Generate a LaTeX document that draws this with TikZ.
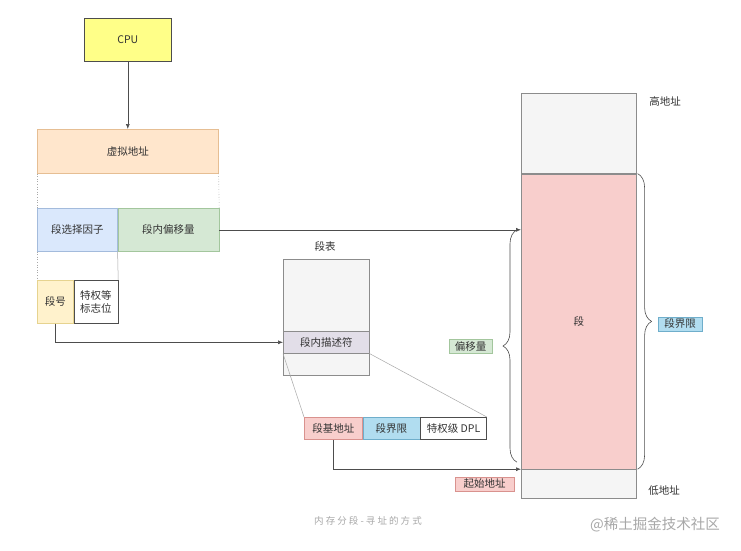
\documentclass[tikz,border=0pt]{standalone}
\usepackage{fontspec}
\setmainfont{Noto Sans CJK SC}
\newfontfamily\capfont[LetterSpace=22]{Noto Sans CJK SC}
\usetikzlibrary{arrows.meta,calc,positioning,decorations.pathreplacing}
\definecolor{Ink}{HTML}{333333}
\definecolor{Wire}{HTML}{4D4D4D}
\definecolor{Faint}{HTML}{A8A8A8}
\definecolor{CpuFill}{HTML}{FFFF88}
\definecolor{OrangeFill}{HTML}{FFE6CC}
\definecolor{OrangeLine}{HTML}{E6BE93}
\definecolor{BlueFill}{HTML}{DAE8FC}
\definecolor{BlueLine}{HTML}{A3BBDC}
\definecolor{GreenFill}{HTML}{D5E8D4}
\definecolor{GreenLine}{HTML}{A3C69D}
\definecolor{SandFill}{HTML}{FFF2CC}
\definecolor{SandLine}{HTML}{E6D38F}
\definecolor{GreyFill}{HTML}{F5F5F5}
\definecolor{GreyLine}{HTML}{8C8C8C}
\definecolor{LilacFill}{HTML}{E2DEE8}
\definecolor{PinkFill}{HTML}{F8CECC}
\definecolor{PinkLine}{HTML}{D9928E}
\definecolor{SkyFill}{HTML}{B1DDF0}
\definecolor{SkyLine}{HTML}{6FAECB}

\begin{document}
\begin{tikzpicture}[
  x=1pt,y=-1pt,
  font=\fontsize{10.5}{13}\selectfont,text=Ink,
  box/.style={draw,inner sep=1pt,align=center,anchor=north west,line width=0.6pt},
  cpubox/.style={box,fill=CpuFill,draw=Wire},
  orange/.style={box,fill=OrangeFill,draw=OrangeLine},
  blue/.style={box,fill=BlueFill,draw=BlueLine},
  green/.style={box,fill=GreenFill,draw=GreenLine},
  sand/.style={box,fill=SandFill,draw=SandLine},
  plain/.style={box,fill=white,draw=Wire},
  grey/.style={box,fill=GreyFill,draw=GreyLine},
  pink/.style={box,fill=PinkFill,draw=PinkLine},
  sky/.style={box,fill=SkyFill,draw=SkyLine},
  tag/.style={draw,inner sep=1pt,minimum height=14pt,line width=0.5pt},
  arr/.style={-{Latex[length=5pt,width=4pt]},draw=Wire,line width=0.6pt},
  dots/.style={draw=Faint,dotted,line width=0.6pt},
  thin/.style={draw=Faint,line width=0.5pt},
  brace/.style={decorate,decoration={brace,amplitude=14pt},draw=Wire,line width=0.6pt}
]
  \fill[white] (0,0) rectangle (741,551);
  \useasboundingbox (0,0) rectangle (741,551);

  \node[cpubox,minimum width=87pt,minimum height=43pt] (cpu) at (84,18) {CPU};
  \node[orange,minimum width=181pt,minimum height=44pt] (vaddr) at (37,129) {虚拟地址};
  \node[blue,minimum width=80pt,minimum height=43pt] (sel) at (37,208) {段选择因子};
  \node[green,minimum width=101pt,minimum height=43pt,right=0pt of sel] (offs) {段内偏移量};
  \node[sand,minimum width=36pt,minimum height=43pt] (segno) at (37,280) {段号};
  \node[plain,minimum width=44pt,minimum height=43pt,right=0pt of segno] (flags) {特权等\\标志位};

  \node (tabtitle) at (325,246) {段表};
  \node[grey,minimum width=86pt,minimum height=116pt] (segtab) at (283,259) {};
  \node[box,fill=LilacFill,draw=GreyLine,minimum width=86pt,minimum height=22pt] (desc) at (283,331) {段内描述符};
  \node[pink,minimum width=58pt,minimum height=22pt] (base) at (304,417) {段基地址};
  \node[sky,minimum width=57pt,minimum height=22pt,right=0pt of base] (limit) {段界限};
  \node[plain,minimum width=66pt,minimum height=22pt,right=0pt of limit] (dpl) {特权级 DPL};

  \node[grey,minimum width=115pt,minimum height=80pt] (high) at (521,93) {};
  \node[box,fill=PinkFill,draw=GreyLine,minimum width=115pt,minimum height=295pt,below=0pt of high] (seg) {段};
  \node[grey,minimum width=115pt,minimum height=29pt,below=0pt of seg] (low) {};
  \node (hightxt) at (665,101) {高地址};
  \node (lowtxt) at (664,491) {低地址};

  \node[tag,fill=SkyFill,draw=SkyLine,minimum width=44pt] (limtag) at (680,324) {段界限};
  \node[tag,fill=GreenFill,draw=GreenLine,minimum width=43pt] (offtag) at (470.5,346.5) {偏移量};
  \node[tag,fill=PinkFill,draw=PinkLine,minimum width=59pt] (starttag) at (484.5,484) {起始地址};

  \coordinate (ltop) at ($(offs.east -| seg.west)+(-4,0)$);
  \coordinate (lbot) at ($(seg.south west)+(-4,-7)$);

  \draw[arr] (cpu) -- (vaddr);
  \draw[dots] (vaddr.south west) -- (sel.north west);
  \draw[dots] (vaddr.south east) -- (offs.north east);
  \draw[dots] (sel.south west) -- (segno.north west);
  \draw[thin] (sel.south east) -- (flags.north east);
  \draw[arr] (offs.east) -- (offs.east -| seg.west);
  \draw[arr] (segno.south) |- (desc.west);
  \draw[thin] (desc.south west) -- (base.north west);
  \draw[thin] (desc.south east) -- (dpl.north east);
  \draw[arr] (base.south) |- (seg.south west);
  \draw[brace] ([xshift=1pt]seg.north east) -- ([xshift=1pt]seg.south east);
  \draw[brace] (lbot) -- (ltop);

  \node[text=Faint,font=\capfont\fontsize{9.5}{11}\selectfont] (caption) at (368,521) {内存分段-寻址的方式};
  \node[text=Faint,font=\fontsize{14.5}{17}\selectfont] (mark) at (655,525) {@稀土掘金技术社区};
\end{tikzpicture}
\end{document}
